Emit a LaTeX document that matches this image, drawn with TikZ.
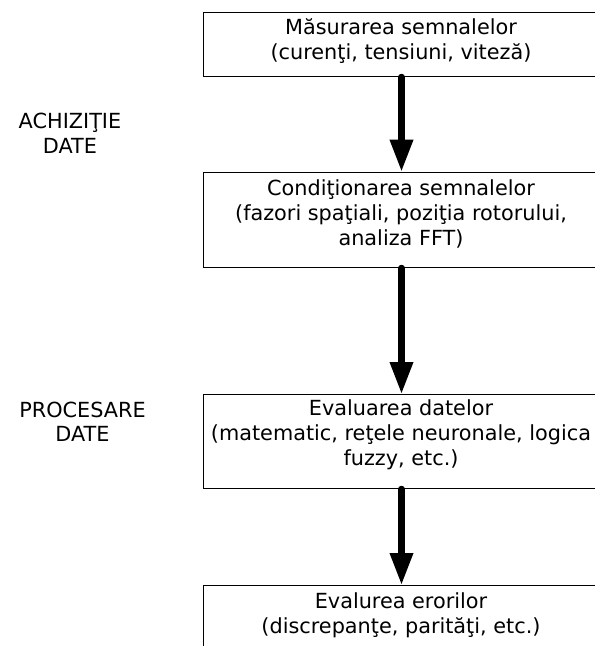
\documentclass[tikz,border=0pt]{standalone}
\usepackage{fontspec}
\setmainfont{DejaVu Sans}
\usetikzlibrary{arrows.meta}
\begin{document}
\begin{tikzpicture}[x=1pt,y=-1pt,
  boxst/.style={draw=black, line width=1pt, inner sep=0pt, minimum width=397pt, anchor=north west},
  txt/.style={font=\fontsize{20.8}{25}\selectfont, inner sep=0pt, anchor=base},
  arr/.style={line width=6.5pt, line cap=round, -{Triangle[length=32pt,width=22pt]}}]
\useasboundingbox (0,0) rectangle (595,646);
\clip (0,0) rectangle (595,646);
% boxes
\node[boxst, minimum height=64.3pt] (b1) at (203,11.7) {};
\node[boxst, minimum height=95.3pt] (b2) at (203,171.7) {};
\node[boxst, minimum height=94pt] (b3) at (203,394) {};
\node[boxst, minimum height=90pt] (b4) at (203,585) {};
% box texts
\node[txt] (t1a) at (401,34) {Măsurarea semnalelor};
\node[txt] (t1b) at (401,59) {(curenţi, tensiuni, viteză)};
\node[txt] (t2a) at (401,195) {Condiţionarea semnalelor};
\node[txt] (t2b) at (401,220) {(fazori spaţiali, poziţia rotorului,};
\node[txt] (t2c) at (401,245) {analiza FFT)};
\node[txt] (t3a) at (401,415) {Evaluarea datelor};
\node[txt] (t3b) at (401,440) {(matematic, reţele neuronale, logica};
\node[txt] (t3c) at (401,465) {fuzzy, etc.)};
\node[txt] (t4a) at (401,608) {Evalurea erorilor};
\node[txt] (t4b) at (401,633) {(discrepanţe, parităţi, etc.)};
% side labels
\node[txt] (l1a) at (70,128) {ACHIZIŢIE};
\node[txt] (l1b) at (70,153) {DATE};
\node[txt] (l2a) at (82.5,417) {PROCESARE};
\node[txt] (l2b) at (82.5,441) {DATE};
% arrows
\draw[arr] ([xshift=-0.5pt]b1.south) -- ([xshift=-0.5pt]b2.north);
\draw[arr] ([xshift=-0.5pt]b2.south) -- ([xshift=-0.5pt]b3.north);
\draw[arr] ([xshift=-0.5pt]b3.south) -- ([xshift=-0.5pt]b4.north);
\end{tikzpicture}
\end{document}
